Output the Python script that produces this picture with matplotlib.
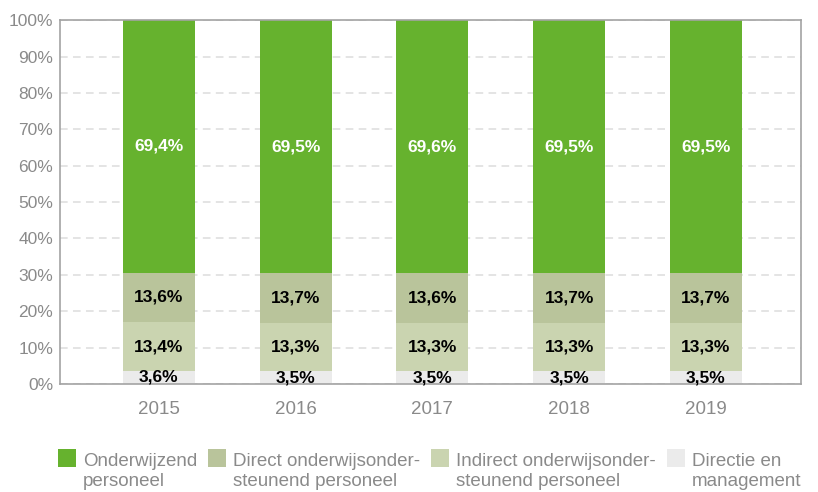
import matplotlib
matplotlib.use("Agg")
import matplotlib.pyplot as plt
from matplotlib.patches import Rectangle
import numpy as np

plt.rcParams['font.family'] = ['Liberation Sans', 'DejaVu Sans']

years = ["2015", "2016", "2017", "2018", "2019"]
onderwijzend = [69.4, 69.5, 69.6, 69.5, 69.5]
direct_ondersteunend = [13.6, 13.7, 13.6, 13.7, 13.7]
indirect_ondersteunend = [13.4, 13.3, 13.3, 13.3, 13.3]
directie = [3.6, 3.5, 3.5, 3.5, 3.5]

series_names = ["Onderwijzend\npersoneel",
                "Direct onderwijsonder-\nsteunend personeel",
                "Indirect onderwijsonder-\nsteunend personeel",
                "Directie en\nmanagement"]
colors = ["#66b22e", "#b9c49b", "#cad4b0", "#ebebeb"]
label_colors = ["white", "black", "black", "black"]

W, H = 818, 492
fig = plt.figure(figsize=(W / 100, H / 100), dpi=100)
ax = fig.add_axes([0.0733, 0.2195, 0.9057, 0.7395])

x = np.arange(len(years))
width = 0.527

# stack from the bottom: directie, indirect, direct, onderwijzend
stack = [directie, indirect_ondersteunend, direct_ondersteunend, onderwijzend]
stack_colors = colors[::-1]
stack_text = label_colors[::-1]
bottom = np.zeros(len(years))
for vals, col, tcol in zip(stack, stack_colors, stack_text):
    vals = np.array(vals)
    ax.bar(x, vals, width, bottom=bottom, color=col, zorder=2)
    for xi, v, bt in zip(x, vals, bottom):
        ax.text(xi, bt + v / 2, f"{v:.1f}%".replace(".", ","), ha="center",
                va="center", color=tcol, fontsize=12.5, fontweight="bold", zorder=3)
    bottom += vals

ax.set_xlim(-0.724, 4.695)
ax.set_ylim(0, 100)
ax.set_yticks(np.arange(0, 101, 10))
ax.set_yticklabels([f"{t}%" for t in range(0, 101, 10)])
ax.set_xticks(x)
ax.set_xticklabels(years)
ax.tick_params(axis="y", length=0, pad=5, labelsize=12.5, labelcolor="#8a8a8a")
ax.tick_params(axis="x", length=0, pad=12, labelsize=13.5, labelcolor="#8a8a8a")

ax.yaxis.grid(True, color="#dcdcdc", linestyle=(0, (5, 3.5)), linewidth=1.1, zorder=1)
ax.set_axisbelow(True)
for sp in ax.spines.values():
    sp.set_color("#a3a3a3")
    sp.set_linewidth(1.2)

# legend below the plot: square swatch with the first text line next to its top
renderer = fig.canvas.get_renderer()
px = 58.0
box = 18.0
top = 449.0
for name, col in zip(series_names, colors):
    fig.patches.append(Rectangle((px / W, 1 - (top + box) / H), box / W, box / H,
                                 transform=fig.transFigure, facecolor=col,
                                 edgecolor="none"))
    tx = px + box + 7
    widest = 0
    for i, line in enumerate(name.split("\n")):
        t = fig.text(tx / W, 1 - (top + 17 + 20 * i) / H, line, fontsize=13.5,
                     color="#8a8a8a", ha="left", va="baseline")
        widest = max(widest, t.get_window_extent(renderer).width)
    px = tx + widest + 11

fig.savefig("out.png", dpi=100)
